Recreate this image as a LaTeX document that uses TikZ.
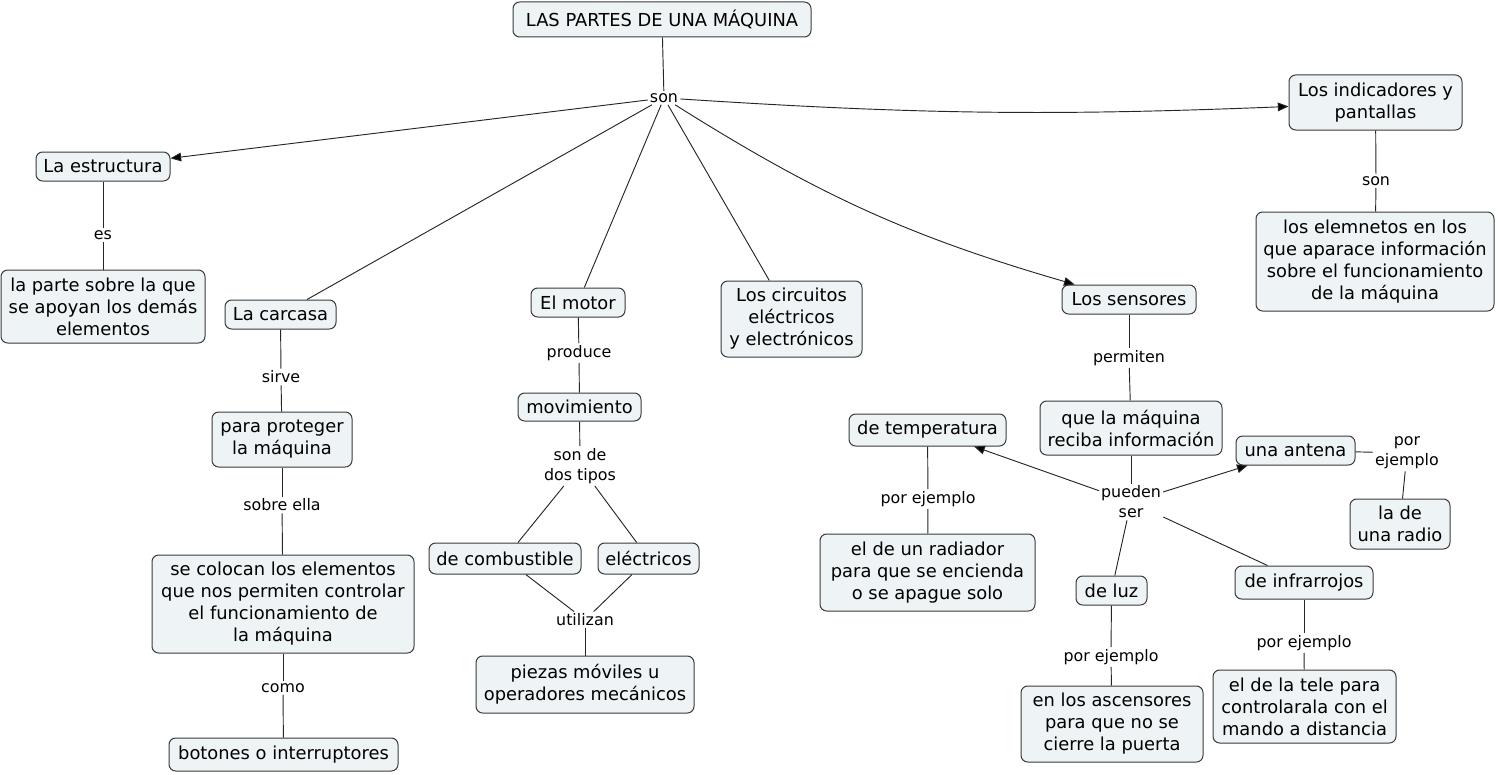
\documentclass[tikz,border=0pt]{standalone}
\usepackage{fontspec}
\setmainfont{DejaVu Sans}
\usetikzlibrary{arrows.meta}
\definecolor{boxfill}{HTML}{EEF3F5}
\definecolor{boxline}{HTML}{3A3A3A}

\tikzset{
  concept/.style={draw=boxline, fill=boxfill, rounded corners=5pt, line width=0.75pt,
    align=center, inner sep=2pt, font=\fontsize{13.4}{16.5}\selectfont},
  sz/.style 2 args={minimum width=#1*0.75pt, minimum height=#2*0.75pt},
  linkword/.style={align=center, inner sep=1.5pt, font=\fontsize{11.9}{15}\selectfont},
  link/.style={draw=black!85, line width=0.7pt},
  arrow/.style={-{Triangle[length=8pt,width=6.5pt]}},
}

\begin{document}
\begin{tikzpicture}[x=0.75pt, y=-0.75pt]
    \useasboundingbox (0,0) rectangle (1498,774);

    % top
    \node[concept, sz={298}{35}] (title) at (662,19.5) {LAS PARTES DE UNA MÁQUINA};
    \node[linkword] (son) at (664,98) {son};

    % estructura
    \node[concept, sz={134}{29}] (estr) at (103,166.5) {La estructura};
    \node[linkword] (es) at (103,235) {es};
    \node[concept, sz={204}{73}] (parte) at (103,306.5) {la parte sobre la que\\se apoyan los demás\\elementos};

    % carcasa
    \node[concept, sz={111}{29}] (carc) at (280.5,314.5) {La carcasa};
    \node[linkword] (sirve) at (281,377) {sirve};
    \node[concept, sz={140}{55}] (prot) at (282,439.5) {para proteger\\la máquina};
    \node[linkword] (sobre) at (282,505) {sobre ella};
    \node[concept, sz={262}{98}] (coloc) at (283,604) {se colocan los elementos\\que nos permiten controlar\\el funcionamiento de\\la máquina};
    \node[linkword] (como) at (283,688) {como};
    \node[concept, sz={229}{33}] (boton) at (283.5,754.5) {botones o interruptores};

    % motor
    \node[concept, sz={94}{29}] (motor) at (578,302.5) {El motor};
    \node[linkword] (produce) at (579,353) {produce};
    \node[concept, sz={123}{28}] (mov) at (579.5,407) {movimiento};
    \node[linkword] (tipos) at (580,466) {son de\\dos tipos};
    \node[concept, sz={152}{31}] (comb) at (505,558.5) {de combustible};
    \node[concept, sz={101}{31}] (elec) at (648.5,558.5) {eléctricos};
    \node[linkword] (util) at (585,620) {utilizan};
    \node[concept, sz={218}{57}] (piezas) at (585,684.5) {piezas móviles u\\operadores mecánicos};

    % circuitos
    \node[concept, sz={141}{76}] (circ) at (791.5,319) {Los circuitos\\eléctricos\\y electrónicos};

    % sensores
    \node[concept, sz={134}{29}] (sens) at (1129,299.5) {Los sensores};
    \node[linkword] (permiten) at (1129,358) {permiten};
    \node[concept, sz={182}{54}] (recib) at (1131,428) {que la máquina\\reciba información};
    \node[linkword] (pueden) at (1131,502) {pueden\\ser};
    \node[concept, sz={157}{32}] (temp) at (927.5,430) {de temperatura};
    \node[linkword] (ejT) at (928,499) {por ejemplo};
    \node[concept, sz={215}{77}] (radiador) at (927.5,572.5) {el de un radiador\\para que se encienda\\o se apague solo};
    \node[concept, sz={119}{29}] (antena) at (1295.5,450.5) {una antena};
    \node[linkword] (ejA) at (1407,453) {por\\ejemplo};
    \node[concept, sz={100}{50}] (radio) at (1400,524) {la de\\una radio};
    \node[concept, sz={71}{29}] (luz) at (1111.5,590.5) {de luz};
    \node[linkword] (ejL) at (1111,657) {por ejemplo};
    \node[concept, sz={182}{76}] (ascens) at (1112,724) {en los ascensores\\para que no se\\cierre la puerta};
    \node[concept, sz={138}{33}] (infra) at (1304,582.5) {de infrarrojos};
    \node[linkword] (ejI) at (1304,643) {por ejemplo};
    \node[concept, sz={183}{73}] (tele) at (1304.5,706.5) {el de la tele para\\controlarala con el\\mando a distancia};

    % indicadores
    \node[concept, sz={173}{55}] (indic) at (1375.5,102.5) {Los indicadores y\\pantallas};
    \node[linkword] (sonI) at (1376,181) {son};
    \node[concept, sz={238}{99}] (elem) at (1375,261.5) {los elemnetos en los\\que aparace información\\sobre el funcionamiento\\de la máquina};

    \path[link]
        (title) edge (son)
        (son) edge[arrow] (estr)
        (son) edge (carc)
        (son) edge (motor)
        (son) edge (circ)
        (son) edge[arrow, bend right=8] (sens)
        (son) edge[arrow, bend right=3] (indic)
        (estr) edge (es)   (es) edge (parte)
        (carc) edge (sirve)   (sirve) edge (prot)
        (prot) edge (sobre)   (sobre) edge (coloc)
        (coloc) edge (como)   (como) edge (boton)
        (motor) edge (produce)   (produce) edge (mov)
        (mov) edge (tipos)
        (tipos) edge (comb)   (tipos) edge (elec)
        (comb) edge (util)   (elec) edge (util)
        (util) edge (piezas)
        (sens) edge (permiten)   (permiten) edge (recib)
        (recib) edge (pueden)
        (pueden) edge[arrow] (temp)
        (pueden) edge[arrow] (antena)
        (pueden) edge (luz)
        (pueden) edge (infra)
        (temp) edge (ejT)   (ejT) edge (radiador)
        (antena) edge (ejA)   (ejA) edge (radio)
        (luz) edge (ejL)   (ejL) edge (ascens)
        (infra) edge (ejI)   (ejI) edge (tele)
        (indic) edge (sonI)   (sonI) edge (elem);

\end{tikzpicture}
\end{document}
